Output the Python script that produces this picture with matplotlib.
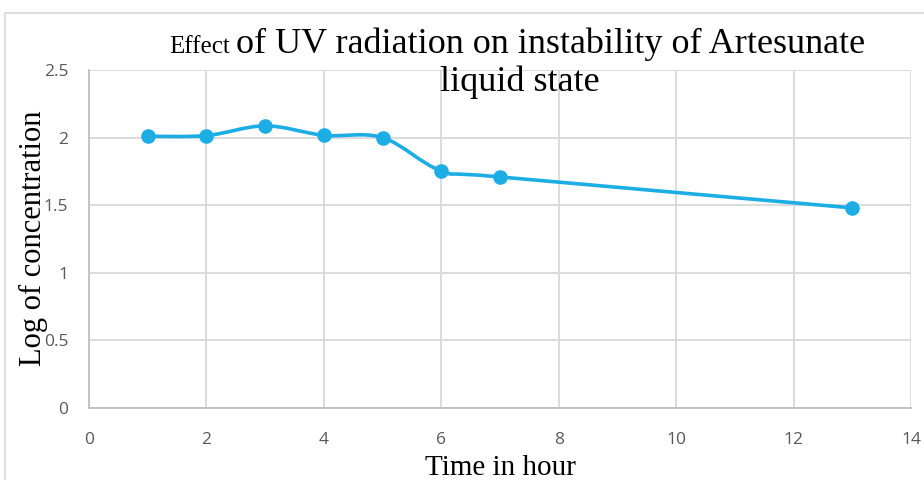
import matplotlib
matplotlib.use("Agg")
import matplotlib.pyplot as plt
from matplotlib.path import Path
from matplotlib.patches import PathPatch, Rectangle

hours = [1, 2, 3, 4, 5, 6, 7, 13]
log_conc = [2.01, 2.015, 2.087, 2.017, 2.0, 1.754, 1.709, 1.48]
xticks = [0, 2, 4, 6, 8, 10, 12, 14]
yticks = [0, 0.5, 1, 1.5, 2, 2.5]

BLUE = "#1CADE4"
GRID = "#d9d9d9"
TICK = "#595959"

fig = plt.figure(figsize=(9.24, 4.8), dpi=100)
ax = fig.add_axes([89/924, 72/480, 822/924, 338/480])

# Excel-style smoothed line: bezier segments between the data points
pts = list(zip(hours, log_conc))
verts = [pts[0]]
codes = [Path.MOVETO]
for i in range(len(pts) - 1):
    p0 = pts[max(i - 1, 0)]
    p1 = pts[i]
    p2 = pts[i + 1]
    p3 = pts[min(i + 2, len(pts) - 1)]
    c1 = (p1[0] + (p2[0] - p0[0]) / 6, p1[1] + (p2[1] - p0[1]) / 6)
    c2 = (p2[0] - (p3[0] - p1[0]) / 6, p2[1] - (p3[1] - p1[1]) / 6)
    verts += [c1, c2, p2]
    codes += [Path.CURVE4] * 3
ax.add_patch(PathPatch(Path(verts, codes), fill=False, edgecolor=BLUE, lw=2.6, zorder=3,
                       capstyle="round", joinstyle="round"))
ax.plot(hours, log_conc, "o", color=BLUE, ms=9.5, zorder=4)

ax.set_xlim(0, 14)
ax.set_ylim(0, 2.5)
ax.set_xticks(xticks)
ax.set_yticks(yticks)
ax.set_yticklabels(["0", "0.5", "1", "1.5", "2", "2.5"])
ax.grid(True, color=GRID, lw=1.3)
ax.set_axisbelow(True)
for s in ["top", "right"]:
    ax.spines[s].set_visible(False)
for s in ["left", "bottom"]:
    ax.spines[s].set_color("#bfbfbf")
    ax.spines[s].set_linewidth(1.3)
ax.tick_params(length=0, colors=TICK, labelsize=12.5)
ax.tick_params(axis="x", pad=17)
ax.tick_params(axis="y", pad=15)
for lab in ax.get_xticklabels() + ax.get_yticklabels():
    lab.set_family("Open Sans")

serif = "Liberation Serif"
fig.text(230/924, 1 - 53/480, "Effect", family=serif, fontsize=18, ha="right", va="baseline")
fig.text(236/924, 1 - 53/480, "of UV radiation on instability of Artesunate", family=serif,
         fontsize=26, ha="left", va="baseline")
fig.text(520/924, 1 - 91/480, "liquid state", family=serif, fontsize=26, ha="center", va="baseline")
fig.text(500/924, 1 - 475/480, "Time in hour", family=serif, fontsize=21, ha="center", va="baseline")
fig.text(33/924, 1 - 238/480, "Log of concentration", family=serif, fontsize=22, rotation=90,
         ha="center", va="center")

fig.patches.append(Rectangle((5/924, -0.1), 1.2, 1 - 13/480 + 0.1, transform=fig.transFigure,
                             fill=False, edgecolor="#d9d9d9", lw=1.2))

fig.savefig("out.png", dpi=100)
